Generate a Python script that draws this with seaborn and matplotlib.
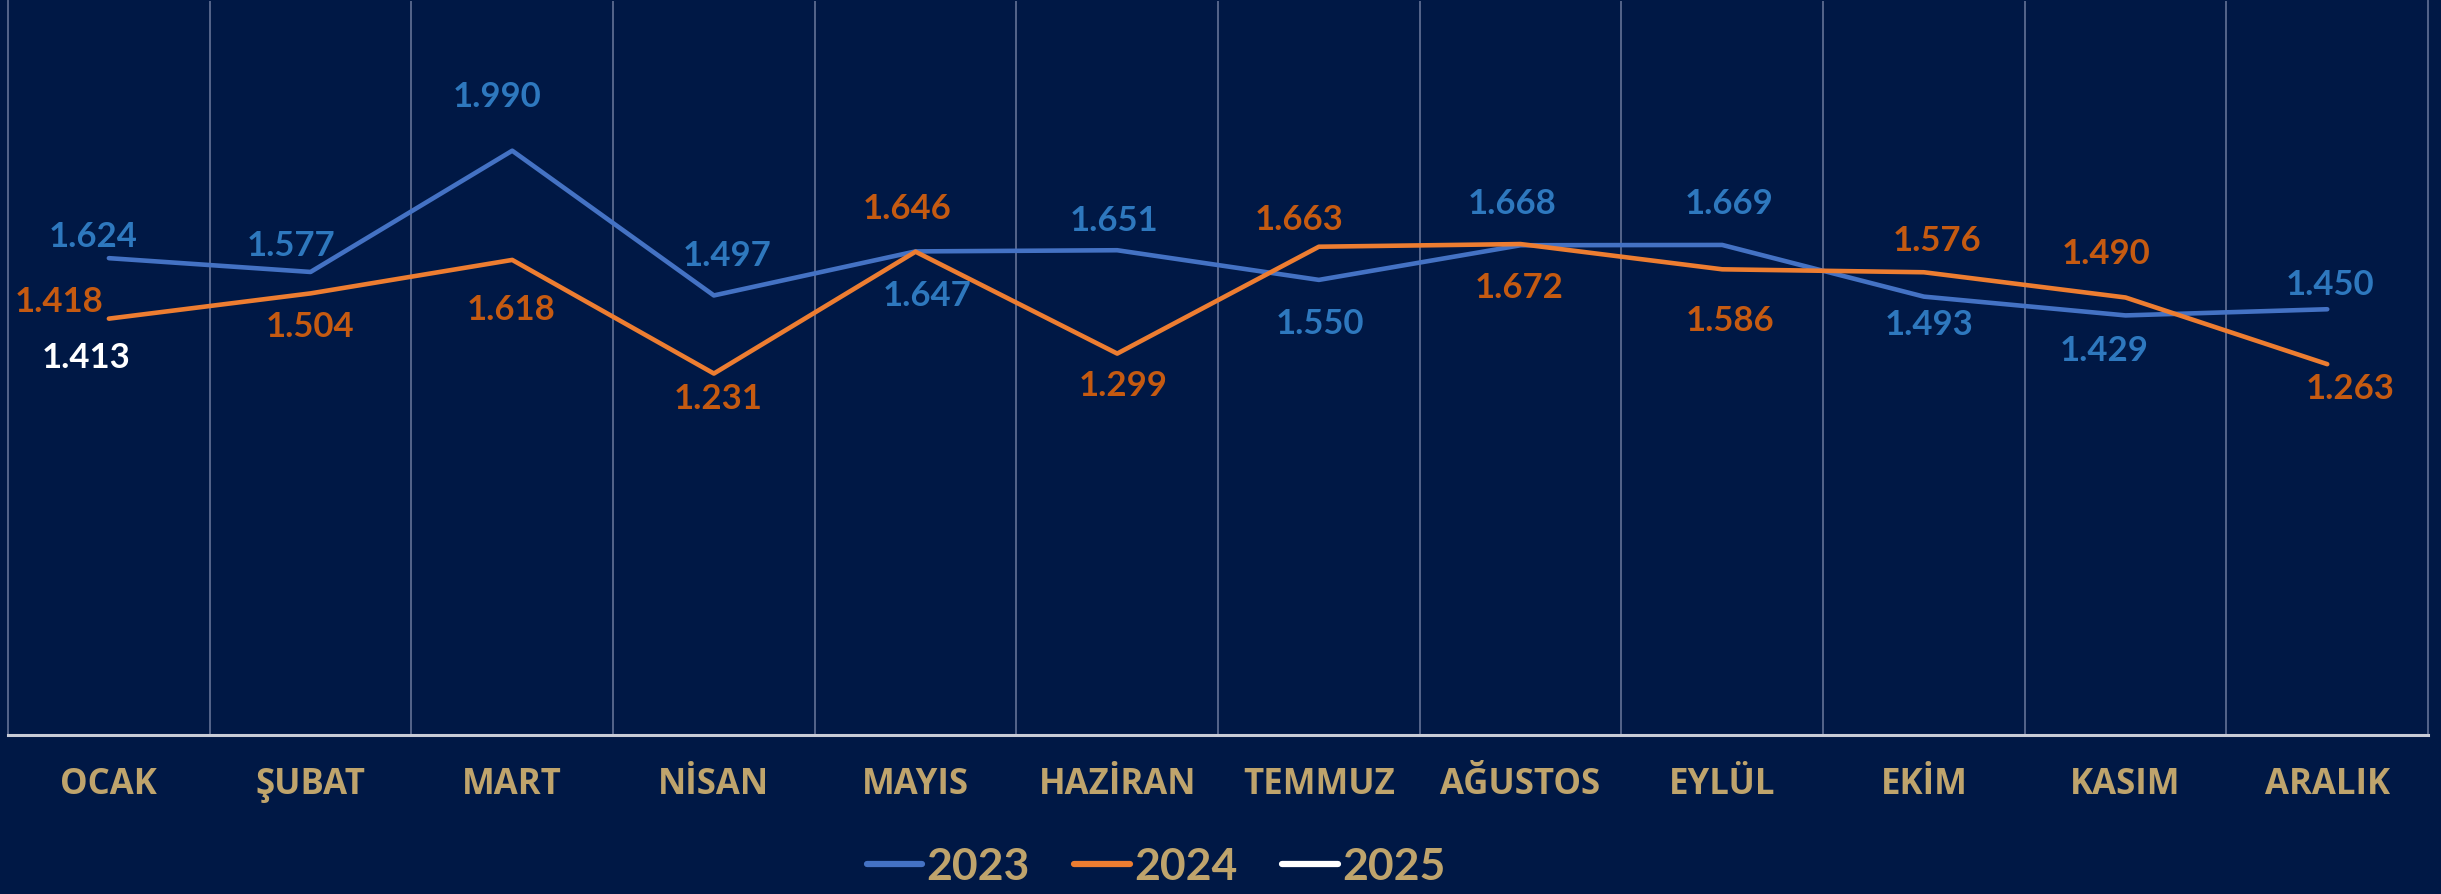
import numpy as np
import pandas as pd
import matplotlib
matplotlib.use("Agg")
import matplotlib.pyplot as plt
import seaborn as sns

months = ["OCAK", "ŞUBAT", "MART", "NİSAN", "MAYIS", "HAZİRAN",
          "TEMMUZ", "AĞUSTOS", "EYLÜL", "EKİM", "KASIM", "ARALIK"]
v2023 = [1.624, 1.577, 1.990, 1.497, 1.647, 1.651, 1.550, 1.668, 1.669, 1.493, 1.429, 1.450]
v2024 = [1.418, 1.504, 1.618, 1.231, 1.646, 1.299, 1.663, 1.672, 1.586, 1.576, 1.490, 1.263]
v2025 = [1.413]
years = ["2023", "2024", "2025"]

# label offsets (pixels, x right, y up) -- styling only
off2023 = [(-16, 22), (-20, 27), (-15, 55), (13, 40), (12, -44), (-3, 30),
           (1, -43), (-8, 42), (7, 42), (5, -27), (-21, -35), (3, 25)]
off2024 = [(-50, 18), (-1, -33), (-1, -49), (4, -24), (-8, 44), (6, -31),
           (-20, 28), (-1, -43), (8, -51), (13, 32), (-19, 45), (23, -24)]
off2025 = [(-23, -37)]

BG = "#001845"
GOLD = "#BFA46C"
line_cols = {"2023": "#4472C4", "2024": "#ED7D31", "2025": "#FFFFFF"}
lab_cols = {"2023": "#2E78BE", "2024": "#C55A11", "2025": "#FFFFFF"}

rows = []
for y, vals in zip(years, [v2023, v2024, v2025]):
    for m, v in zip(months, vals):
        rows.append({"Ay": m, "Yıl": y, "Değer": v})
df = pd.DataFrame(rows)
df["Ay"] = pd.Categorical(df["Ay"], categories=months, ordered=True)
df["x"] = df["Ay"].cat.codes

sns.set_theme(style="white")
plt.rcParams["font.family"] = ["Open Sans", "DejaVu Sans"]

fig = plt.figure(figsize=(24.41, 8.95), dpi=100, facecolor=BG)
ax = fig.add_axes([0.0033, 0.1777, 0.9914, 0.8201])
ax.set_facecolor(BG)

sns.lineplot(data=df, x="x", y="Değer", hue="Yıl", palette=line_cols,
             linewidth=3.3, ax=ax, legend="auto", sort=False)

ax.set_xlim(-0.5, 11.5)
ax.set_ylim(0, 2.5)

# data labels
for y, vals, offs in zip(years, [v2023, v2024, v2025], [off2023, off2024, off2025]):
    for i, (v, o) in enumerate(zip(vals, offs)):
        ax.annotate(f"{v:.3f}", (i, v), xytext=o, textcoords="offset pixels",
                    ha="center", va="center", color=lab_cols[y],
                    fontsize=25, fontweight="bold", family=["Lato", "DejaVu Sans"])

# axes styling
ax.set_xticks(range(len(months)))
ax.set_xticklabels(months, color=GOLD, fontsize=25, fontweight="bold")
ax.set_xticks(np.arange(0.5, 11.5, 1.0), minor=True)
ax.tick_params(axis="x", which="both", length=0, pad=22)
ax.set_yticks([])
ax.set_xlabel("")
ax.set_ylabel("")
ax.grid(False)
ax.grid(True, which="minor", axis="x", color="#55658A", linewidth=1.4)
for s in ["left", "right"]:
    ax.spines[s].set_color("#55658A")
    ax.spines[s].set_linewidth(1.4)
ax.spines["top"].set_visible(False)
ax.spines["bottom"].set_color("#C8CCD6")
ax.spines["bottom"].set_linewidth(2.2)

handles, labels = ax.get_legend_handles_labels()
if ax.get_legend() is not None:
    ax.get_legend().remove()
for h in handles:
    h.set_linewidth(4.5)
leg = fig.legend(handles, labels, loc="center", bbox_to_anchor=(0.4736, 0.031),
                 ncol=3, frameon=False, handlelength=1.25, handletextpad=0.1,
                 columnspacing=1.0, prop={"family": ["Lato", "DejaVu Sans"],
                                          "weight": "bold", "size": 32})
for t in leg.get_texts():
    t.set_color(GOLD)

fig.savefig("out.png", dpi=100, facecolor=BG)
